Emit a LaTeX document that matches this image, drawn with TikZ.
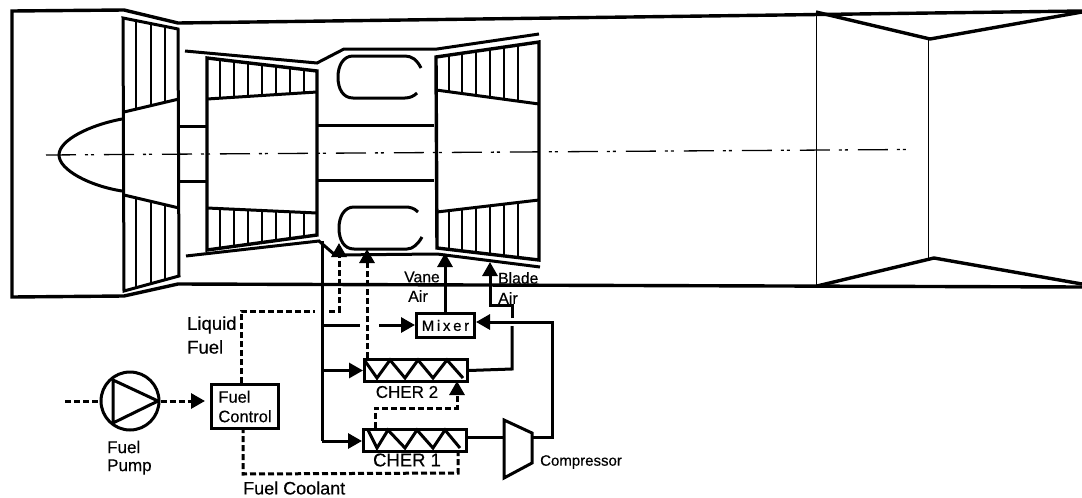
\documentclass[tikz,border=0pt]{standalone}
\usepackage{fontspec}
\setmainfont{Liberation Sans}[FakeBold=0.35]
\usetikzlibrary{arrows.meta}
\tikzset{
  heavy/.style={line width=3pt,line join=miter},
  heavier/.style={line width=3.4pt,line join=miter},
  thin line/.style={line width=1.3pt,black},
  box/.style={draw,line width=3pt,inner sep=0pt,fill=white},
  flow/.style={line width=3pt,-{Triangle[length=14pt,width=15pt]}},
  plain flow/.style={line width=3pt},
  fuel/.style={line width=3pt,dash pattern=on 6pt off 3pt},
  fuel arrow/.style={fuel,-{Triangle[length=14pt,width=15pt]}},
  lbl/.style={inner sep=0pt},
  centre line/.style={line width=1.3pt,dash pattern=on 30pt off 9pt on 3pt off 3pt on 3pt off 10pt},
}
\newcommand{\fs}[1]{\fontsize{#1}{#1}\selectfont}
\begin{document}
\begin{tikzpicture}[x=1pt,y=-1pt]
\useasboundingbox (0,0) rectangle (1082,498);
% centre line
\draw[centre line] (46,155) -- (908,149.5);
% outer casing
\draw[heavier] (1082,11) -- (178,23) -- (124,10) -- (12,11) -- (12,297) -- (124,296) -- (178,284) -- (1082,287);
% fan
\draw[heavy] (123,18) -- (178,29) -- (179,276) -- (124,291) -- cycle;
\draw[heavy] (124,112) -- (179,99);
\draw[heavy] (124,195) -- (179,208);
\draw[heavy] (122,119) .. controls (90,125) and (59,140) .. (59,155) .. controls (59,170) and (90,186) .. (122,191);
\foreach \x in {136,151,165}{
  \draw[thin line] (\x,{18+(\x-123)*.2}) -- (\x,{112-(\x-124)*.236});
  \draw[thin line] (\x,{195+(\x-124)*.236}) -- (\x,{291-(\x-124)*.273});
}
% shafts
\draw[heavy] (180,126) -- (206,126);
\draw[heavy] (180,181) -- (206,181);
\draw[heavy] (318,125) -- (434,125);
\draw[heavy] (318,180) -- (434,180);
% compressor
\draw[heavier] (207,58) -- (317,71) -- (317,235) -- (207,250) -- cycle;
\draw[heavy] (207,99) -- (317,92);
\draw[heavy] (207,208) -- (317,213);
\foreach \x in {220,234,248,262,276,290,304}{
  \draw[thin line] (\x,{58+(\x-207)*.118}) -- (\x,{99-(\x-207)*.0636});
  \draw[thin line] (\x,{208+(\x-207)*.0455}) -- (\x,{250-(\x-207)*.136});
}
% inner casing
\draw[heavy] (185,51) -- (317,63) -- (344,49) -- (437,49) -- (539,34);
\draw[heavy] (186,256) -- (319,241) -- (335,255) -- (437,254) -- (540,267);
% combustor
\draw[heavy] (421,68) .. controls (417,60) and (412,56) .. (405,56) -- (353,56) .. controls (343,56) and (338,66) .. (338,77) .. controls (338,89) and (343,98) .. (353,98) -- (405,98) .. controls (410,98) and (414,96) .. (417,93);
\draw[heavy] (418,212) .. controls (414,208) and (410,207) .. (405,207) -- (354,207) .. controls (344,207) and (339,217) .. (339,228) .. controls (339,240) and (344,249) .. (354,249) -- (407,249) .. controls (413,249) and (418,244) .. (422,237);
% turbine
\draw[heavier] (436,57) -- (539,42) -- (539,260) -- (437,248) -- cycle;
\draw[heavy] (436,90) -- (539,104);
\draw[heavy] (437,212) -- (539,200);
\foreach \x in {449,462,476,490,504,518}{
  \draw[thin line] (\x,{57-(\x-436)*.146}) -- (\x,{90+(\x-436)*.136});
  \draw[thin line] (\x,{212-(\x-437)*.118}) -- (\x,{248+(\x-437)*.118});
}
% nozzle
\draw[line width=1pt] (816,12) -- (816,286);
\draw[line width=1pt] (928,38) -- (928,258);
\draw[heavier,line join=bevel] (816,12) -- (930,39) -- (1082,12);
\draw[heavier,line join=bevel] (817,286) -- (934,258) -- (1082,284);

% component nodes
\node[box,anchor=north west,minimum width=58pt,minimum height=24pt] (mixer) at (415,312) {};
\node[lbl,font=\fs{15}] (mixertxt) at (mixer.center) {\addfontfeature{LetterSpace=18}Mixer};
\node[box,anchor=north west,minimum width=103pt,minimum height=22pt] (cher2) at (363,358) {};
\node[box,anchor=north west,minimum width=103pt,minimum height=22pt] (cher1) at (362,428) {};
\node[box,anchor=north west,minimum width=67pt,minimum height=44pt,align=left,font=\fs{16.5}] (control) at (210,383) {Fuel\\[3pt]Control};
\node[circle,draw,line width=3pt,minimum size=58pt,inner sep=0pt] (pump) at (130,401) {};
\draw[heavy,line join=round] (113,380) -- (158,401) -- (113,423) -- cycle;
% exchanger zigzags
\draw[heavy] (365,361) -- (377,378) -- (390,360) -- (405,378) -- (418,360) -- (433,378) -- (447,360) -- (463,378);
\draw[heavy] (368,430) -- (377,448) -- (388,430) -- (405,448) -- (417,430) -- (433,448) -- (445,430) -- (460,448);
% compressor
\draw[heavy] (504,420) -- (532,433) -- (532,463) -- (504,478) -- cycle;
\coordinate (compin) at (504,437);
\coordinate (compout) at (532,437);
% air flows
\coordinate (maintop) at (322,241);
\coordinate (mainbot) at (322,441);
\draw[plain flow] (maintop) -- (mainbot);
\draw[flow] (mainbot) -- (cher1.west |- mainbot);
\draw[flow] (maintop |- cher2.west) -- (cher2.west);
\coordinate (gapa) at (360,325);
\coordinate (gapb) at (379,325);
\draw[plain flow] (maintop |- gapa) -- (gapa);
\draw[flow] (gapb) -- (mixer.west |- gapb);
\coordinate (vanetip) at (445,253);
\draw[flow] (mixer.north -| vanetip) -- (vanetip);
\draw[plain flow] (cher1.east |- compin) -- (compin);
\draw[flow] (compout) -- (552,437) -- (552,322) -- (mixer.east |- 0,322);
\coordinate (bladetip) at (490,262);
\draw[plain flow] (cher2.east) -- (512,369) -- (512,326);
\draw[plain flow] (512,318) -- (512,305) -- (490,305) -- (490,285);
\draw[flow] (490,285) -- (bladetip);
% fuel flows
\draw[fuel] (65,401) -- (pump.west);
\draw[fuel arrow] (pump.east) -- (205,401);
\coordinate (tipone) at (339,243);
\coordinate (tiptwo) at (367,249);
\coordinate (tipthree) at (457,381);
\draw[fuel arrow] (241,383) -- (241,311) -- (315,311) (329,311) -- (339,311) -- (tipone);
\draw[fuel arrow] (367,358) -- (tiptwo);
\draw[fuel arrow] (375,428) -- (375,408) -- (457,408) -- (tipthree);
\draw[fuel] (243,427) -- (243,474) -- (458,473) -- (458,450);
% labels
\node[lbl,anchor=west,font=\fs{17}] (pumpa) at (107,447) {Fuel};
\node[lbl,anchor=west,font=\fs{17}] (pumpb) at (107,467) {Pump};
\node[lbl,anchor=west,font=\fs{18.5}] (liqa) at (187,325) {Liquid};
\node[lbl,anchor=west,font=\fs{18.5}] (liqb) at (187,347) {Fuel};
\node[lbl,anchor=west,font=\fs{18}] (coolant) at (243,488) {Fuel Coolant};
\node[lbl,anchor=west,font=\fs{15}] (comp) at (540,462) {Compressor};
\node[lbl,font=\fs{15.7}] (vanea) at (422,277) {Vane};
\node[lbl,font=\fs{16}] (vaneb) at (418,296) {Air};
\node[lbl,anchor=west,font=\fs{15.7}] (bladea) at (498,278) {Blade};
\node[lbl,anchor=west,font=\fs{16}] (bladeb) at (498,298) {Air};
\node[lbl,font=\fs{17}] (c2) at (407,392) {CHER 2};
\node[lbl,font=\fs{18.5}] (c1) at (407,460) {CHER 1};
\end{tikzpicture}
\end{document}
